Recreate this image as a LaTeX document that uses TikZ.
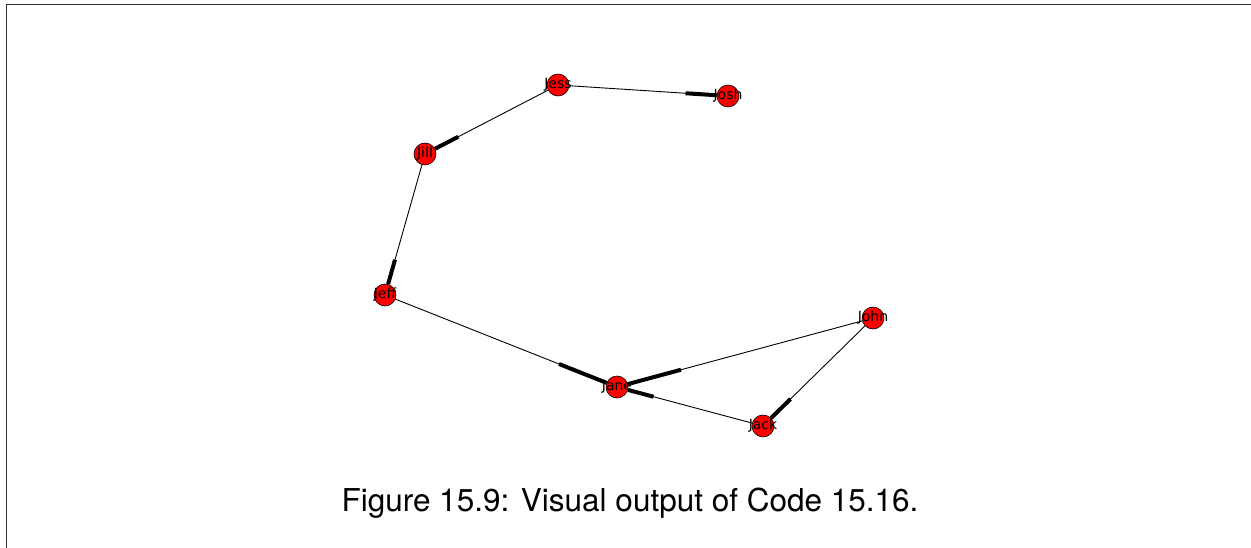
\documentclass[tikz,border=0pt]{standalone}
\usepackage{fontspec}
\setmainfont{TeX Gyre Heros}
\newfontfamily\namefont{DejaVu Sans}
\usetikzlibrary{calc, backgrounds}

\begin{document}
\begin{tikzpicture}[
    x=1pt, y=-1pt,
    person/.style={circle, draw=black, line width=0.6pt, fill=red,
                   minimum size=22pt, inner sep=0pt,
                   label={[font=\namefont\fontsize{14}{14}\selectfont, inner sep=0pt]center:#1}},
    link/.style={black, line width=0.9pt},
    head/.style={black, line width=4pt},
    frame/.style={black!80, line width=1.3pt},
]
\useasboundingbox (0,0) rectangle (1251,548);

% === page frame ===
\draw[frame] (6.5,548) -- (6.5,4.5) -- (1251,4.5);

% === people ===
\node[person=Jess] (jess) at (558,85) {};
\node[person=Josh] (josh) at (728,96) {};
\node[person=Jill] (jill) at (425,154) {};
\node[person=Jeff] (jeff) at (385,295) {};
\node[person=Jane] (jane) at (617,387) {};
\node[person=John] (john) at (873,318) {};
\node[person=Jack] (jack) at (763,426) {};

% === links (thick end marks the target) ===
\begin{scope}[on background layer]
\draw[link] (jess) -- (jill);
\draw[head] ($(jess)!0.75!(jill)$) -- (jill);
\draw[link] (jess) -- (josh);
\draw[head] ($(jess)!0.75!(josh)$) -- (josh);
\draw[link] (jill) -- (jeff);
\draw[head] ($(jill)!0.75!(jeff)$) -- (jeff);
\draw[link] (jeff) -- (jane);
\draw[head] ($(jeff)!0.75!(jane)$) -- (jane);
\draw[link] (john) -- (jane);
\draw[head] ($(john)!0.75!(jane)$) -- (jane);
\draw[link] (jack) -- (jane);
\draw[head] ($(jack)!0.75!(jane)$) -- (jane);
\draw[link] (john) -- (jack);
\draw[head] ($(john)!0.75!(jack)$) -- (jack);
\end{scope}

% === caption ===
\node[font=\fontsize{31.5}{31.5}\selectfont, anchor=base] (caption) at (630,511)
    {Figure 15.9: Visual output of Code 15.16.};

\end{tikzpicture}
\end{document}
